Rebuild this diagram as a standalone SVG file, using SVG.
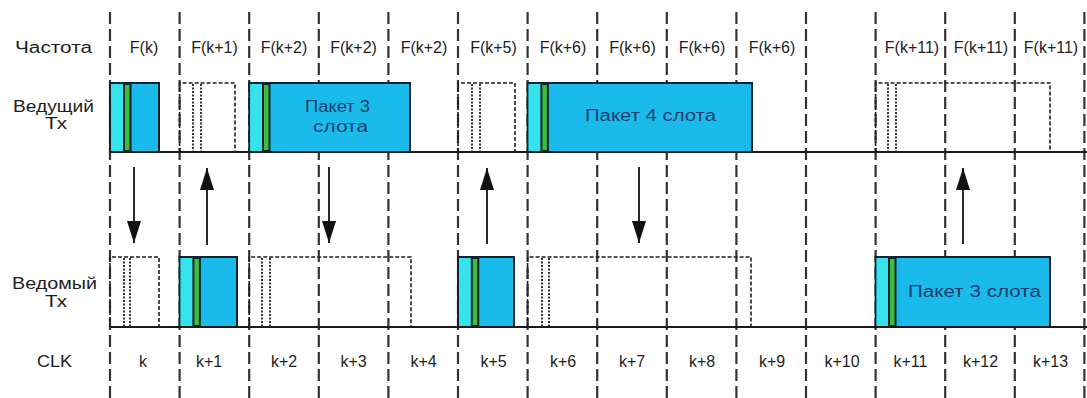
<svg xmlns="http://www.w3.org/2000/svg" width="1087" height="398" viewBox="0 0 1087 398">
<style>
.div{stroke:#333333;stroke-width:2.2;stroke-dasharray:12 5;fill:none}
.base{stroke:#1a1a1a;stroke-width:2;fill:none}
.pk{fill:#1abbea;stroke:#10222e;stroke-width:2}
.cy{fill:#36e3ea}
.gr{fill:#3dbd3d;stroke:#10222e;stroke-width:2}
.db{fill:none;stroke:#1e1e1e;stroke-width:1.6;stroke-dasharray:4 2}
.dt{fill:none;stroke:#1e1e1e;stroke-width:1.8;stroke-dasharray:2 1.5}
.lbl{font-family:"Liberation Sans",Arial,sans-serif;font-size:16px;fill:#1e1e1e}
.mid{text-anchor:middle}
.pt{font-family:"Liberation Sans",Arial,sans-serif;font-size:16px;fill:#1d3c70}
.arr{stroke:#111;stroke-width:1.8;fill:none;marker-end:url(#ah)}
</style>
<defs>
<marker id="ah" markerUnits="userSpaceOnUse" markerWidth="22" markerHeight="14" refX="22" refY="7" orient="auto">
<path d="M0,0 L22,7 L0,14 z" fill="#111"/>
</marker>
</defs>
<rect width="1087" height="398" fill="#ffffff"/>
<g id="dividers">
<line class="div" x1="110" y1="12" x2="110" y2="398"/>
<line class="div" x1="179.6" y1="12" x2="179.6" y2="398"/>
<line class="div" x1="249.2" y1="12" x2="249.2" y2="398"/>
<line class="div" x1="318.8" y1="12" x2="318.8" y2="398"/>
<line class="div" x1="388.4" y1="12" x2="388.4" y2="398"/>
<line class="div" x1="458" y1="12" x2="458" y2="398"/>
<line class="div" x1="527.6" y1="12" x2="527.6" y2="398"/>
<line class="div" x1="597.2" y1="12" x2="597.2" y2="398"/>
<line class="div" x1="666.8" y1="12" x2="666.8" y2="398"/>
<line class="div" x1="736.4" y1="12" x2="736.4" y2="398"/>
<line class="div" x1="806" y1="12" x2="806" y2="398"/>
<line class="div" x1="875.6" y1="12" x2="875.6" y2="398"/>
<line class="div" x1="945.2" y1="12" x2="945.2" y2="398"/>
<line class="div" x1="1014.8" y1="12" x2="1014.8" y2="398"/>
<line class="div" x1="1084.4" y1="12" x2="1084.4" y2="398"/>
</g>
<g id="row-labels">
<text class="lbl" x="15" y="53" textLength="77" lengthAdjust="spacingAndGlyphs">Частота</text>
<text class="lbl" x="13" y="112" textLength="81" lengthAdjust="spacingAndGlyphs">Ведущий</text>
<text class="lbl" x="45" y="129" textLength="22" lengthAdjust="spacingAndGlyphs">Тх</text>
<text class="lbl" x="12" y="289" textLength="85" lengthAdjust="spacingAndGlyphs">Ведомый</text>
<text class="lbl" x="45" y="307" textLength="22" lengthAdjust="spacingAndGlyphs">Тх</text>
<text class="lbl" x="37" y="367" textLength="35" lengthAdjust="spacingAndGlyphs">CLK</text>
</g>
<g id="freq-labels" class="lbl mid">
<text x="144" y="53">F(k)</text>
<text x="214.5" y="53">F(k+1)</text>
<text x="284" y="53">F(k+2)</text>
<text x="353.6" y="53">F(k+2)</text>
<text x="424" y="53">F(k+2)</text>
<text x="493.5" y="53">F(k+5)</text>
<text x="563" y="53">F(k+6)</text>
<text x="632.5" y="53">F(k+6)</text>
<text x="702" y="53">F(k+6)</text>
<text x="772" y="53">F(k+6)</text>
<text x="912" y="53">F(k+11)</text>
<text x="981" y="53">F(k+11)</text>
<text x="1051" y="53">F(k+11)</text>
</g>
<g id="clk-labels" class="lbl mid">
<text x="143" y="367">k</text>
<text x="209" y="367">k+1</text>
<text x="284" y="367">k+2</text>
<text x="353.6" y="367">k+3</text>
<text x="423.5" y="367">k+4</text>
<text x="493.5" y="367">k+5</text>
<text x="563" y="367">k+6</text>
<text x="632" y="367">k+7</text>
<text x="702" y="367">k+8</text>
<text x="772" y="367">k+9</text>
<text x="842" y="367">k+10</text>
<text x="910.5" y="367">k+11</text>
<text x="980.5" y="367">k+12</text>
<text x="1050.5" y="367">k+13</text>
</g>
<g id="master-k">
<rect class="pk" x="110" y="83" width="49" height="69"/>
<rect class="cy" x="111" y="84" width="13" height="67"/>
<rect class="gr" x="124" y="84" width="6.5" height="67"/>
</g>
<g id="master-k1">
<path class="db" d="M179.6,152 V83 H235 V152"/>
<line class="dt" x1="193" y1="84" x2="193" y2="152"/>
<line class="dt" x1="201" y1="84" x2="201" y2="152"/>
</g>
<g id="master-k2">
<rect class="pk" x="249.2" y="83" width="160.8" height="69"/>
<rect class="cy" x="250.2" y="84" width="12.8" height="67"/>
<rect class="gr" x="263" y="84" width="6.5" height="67"/>
<text class="pt" x="305" y="112" textLength="65" lengthAdjust="spacingAndGlyphs">Пакет 3</text>
<text class="pt" x="313" y="132" textLength="55" lengthAdjust="spacingAndGlyphs">слота</text>
</g>
<g id="master-k5">
<path class="db" d="M458,152 V83 H515 V152"/>
<line class="dt" x1="472" y1="84" x2="472" y2="152"/>
<line class="dt" x1="480" y1="84" x2="480" y2="152"/>
</g>
<g id="master-k6">
<rect class="pk" x="527.6" y="83" width="224.4" height="69"/>
<rect class="cy" x="528.6" y="84" width="12.8" height="67"/>
<rect class="gr" x="541.4" y="84" width="6.5" height="67"/>
<text class="pt" x="585" y="121" textLength="131" lengthAdjust="spacingAndGlyphs">Пакет 4 слота</text>
</g>
<g id="master-k11">
<path class="db" d="M875.6,152 V83 H1050 V152"/>
<line class="dt" x1="888" y1="84" x2="888" y2="152"/>
<line class="dt" x1="896" y1="84" x2="896" y2="152"/>
</g>
<g id="slave-k">
<path class="db" d="M110,327 V257 H159 V327"/>
<line class="dt" x1="124" y1="258" x2="124" y2="327"/>
<line class="dt" x1="130" y1="258" x2="130" y2="327"/>
</g>
<g id="slave-k1">
<rect class="pk" x="179.6" y="257" width="57.4" height="70"/>
<rect class="cy" x="180.6" y="258" width="12.8" height="68"/>
<rect class="gr" x="193.4" y="258" width="6.5" height="68"/>
</g>
<g id="slave-k2">
<path class="db" d="M249.2,327 V257 H411 V327"/>
<line class="dt" x1="262" y1="258" x2="262" y2="327"/>
<line class="dt" x1="270" y1="258" x2="270" y2="327"/>
</g>
<g id="slave-k5">
<rect class="pk" x="458" y="257" width="56" height="70"/>
<rect class="cy" x="459" y="258" width="12.8" height="68"/>
<rect class="gr" x="471.8" y="258" width="6.5" height="68"/>
</g>
<g id="slave-k6">
<path class="db" d="M527.6,327 V257 H751 V327"/>
<line class="dt" x1="542" y1="258" x2="542" y2="327"/>
<line class="dt" x1="549" y1="258" x2="549" y2="327"/>
</g>
<g id="slave-k11">
<rect class="pk" x="875.6" y="257" width="174.4" height="70"/>
<rect class="cy" x="876.6" y="258" width="12.4" height="68"/>
<rect class="gr" x="889" y="258" width="6.5" height="68"/>
<text class="pt" x="908" y="297" textLength="133" lengthAdjust="spacingAndGlyphs">Пакет 3 слота</text>
</g>
<g id="baselines">
<line class="base" x1="110" y1="152" x2="1087" y2="152"/>
<line class="base" x1="110" y1="327" x2="1087" y2="327"/>
</g>
<g id="connectors">
<line class="arr" x1="134" y1="167" x2="134" y2="243"/>
<line class="arr" x1="207" y1="245" x2="207" y2="168"/>
<line class="arr" x1="329" y1="167" x2="329" y2="243"/>
<line class="arr" x1="487" y1="244" x2="487" y2="168"/>
<line class="arr" x1="639" y1="167" x2="639" y2="243"/>
<line class="arr" x1="963" y1="244" x2="963" y2="168"/>
</g>
</svg>
